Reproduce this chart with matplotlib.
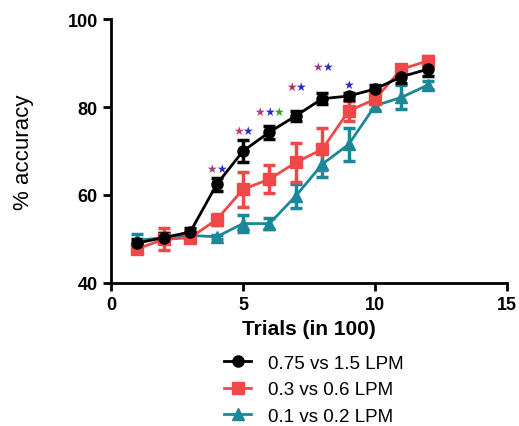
import matplotlib
matplotlib.use('Agg')
import matplotlib.pyplot as plt
from matplotlib.lines import Line2D

plt.rcParams['font.family'] = ['Liberation Sans', 'DejaVu Sans']

trials = [1, 2, 3, 4, 5, 6, 7, 8, 9, 10, 11, 12]

# 0.75 vs 1.5 LPM
black_mean = [49.1, 50.3, 51.6, 62.4, 70.0, 74.3, 78.0, 81.9, 82.5, 84.1, 86.9, 88.6]
black_err = [1.0, 1.0, 1.0, 1.5, 2.5, 1.5, 1.2, 1.2, 0.8, 0.8, 1.5, 1.5]
# 0.3 vs 0.6 LPM
red_mean = [47.8, 49.9, 50.3, 54.4, 61.3, 63.6, 67.4, 70.4, 79.1, 81.8, 88.6, 90.5]
red_err = [1.0, 2.5, 1.0, 1.2, 4.0, 3.2, 4.5, 4.8, 2.3, 1.0, 1.0, 1.0]
# 0.1 vs 0.2 LPM
teal_mean = [49.7, 50.3, 50.8, 50.5, 53.5, 53.5, 59.8, 67.0, 71.5, 80.3, 82.2, 85.0]
teal_err = [1.5, 1.0, 0.5, 0.5, 1.9, 1.2, 2.7, 2.8, 3.8, 1.0, 2.7, 1.0]

labels = ['0.75 vs 1.5 LPM', '0.3 vs 0.6 LPM', '0.1 vs 0.2 LPM']

# significance stars: x, y, colours
star_x = [4, 5, 6, 7, 8, 9]
star_y = [66.1, 74.6, 79.1, 84.6, 89.2, 85.2]
star_cols = [['#a03a88', '#2a2ad0'],
             ['#d0307a', '#2a2ad0'],
             ['#c0307a', '#2a2ad0', '#30a030'],
             ['#b0306a', '#2a2ad0'],
             ['#a03a88', '#2a2ad0'],
             ['#2a2ad0']]

c_black = '#000000'
c_red = '#f04848'
c_teal = '#1a8898'

fig = plt.figure(figsize=(5.19, 4.27), dpi=100)
ax = fig.add_axes([0.214, 0.335, 0.763, 0.618])

ax.errorbar(trials, teal_mean, yerr=teal_err, color=c_teal, marker='^', ms=8,
            lw=2, elinewidth=2.5, capsize=4, capthick=2.5)
ax.errorbar(trials, red_mean, yerr=red_err, color=c_red, marker='s', ms=8,
            lw=2, elinewidth=2.5, capsize=4, capthick=2.5)
ax.errorbar(trials, black_mean, yerr=black_err, color=c_black, marker='o', ms=8,
            lw=2, elinewidth=2.5, capsize=4, capthick=2.5)

for x, y, cols in zip(star_x, star_y, star_cols):
    n = len(cols)
    for i, c in enumerate(cols):
        ax.text(x + (i - (n - 1) / 2) * 0.36, y, '\u2605', color=c, fontsize=8.5,
                ha='center', va='center', family='DejaVu Sans')

ax.set_xlim(0, 15)
ax.set_ylim(40, 100)
ax.set_xticks([0, 5, 10, 15])
ax.set_yticks([40, 60, 80, 100])
for s in ['top', 'right']:
    ax.spines[s].set_visible(False)
for s in ['left', 'bottom']:
    ax.spines[s].set_linewidth(2)
ax.tick_params(width=2, length=6, labelsize=13)
for t in ax.get_xticklabels() + ax.get_yticklabels():
    t.set_fontweight('bold')

ax.set_xlabel('Trials (in 100)', fontsize=15, fontweight='bold', labelpad=4)
ax.set_ylabel('% accuracy', fontsize=16, labelpad=24)

handles = [
    Line2D([], [], color=c_black, marker='o', ms=8, lw=2),
    Line2D([], [], color=c_red, marker='s', ms=8, lw=2),
    Line2D([], [], color=c_teal, marker='^', ms=8, lw=2),
]
fig.legend(handles, labels, loc='upper left', bbox_to_anchor=(0.418, 0.185),
           frameon=False, fontsize=13.5, handlelength=1.4, labelspacing=0.5,
           borderaxespad=0, handletextpad=0.9)

fig.savefig('out.png', dpi=100)
